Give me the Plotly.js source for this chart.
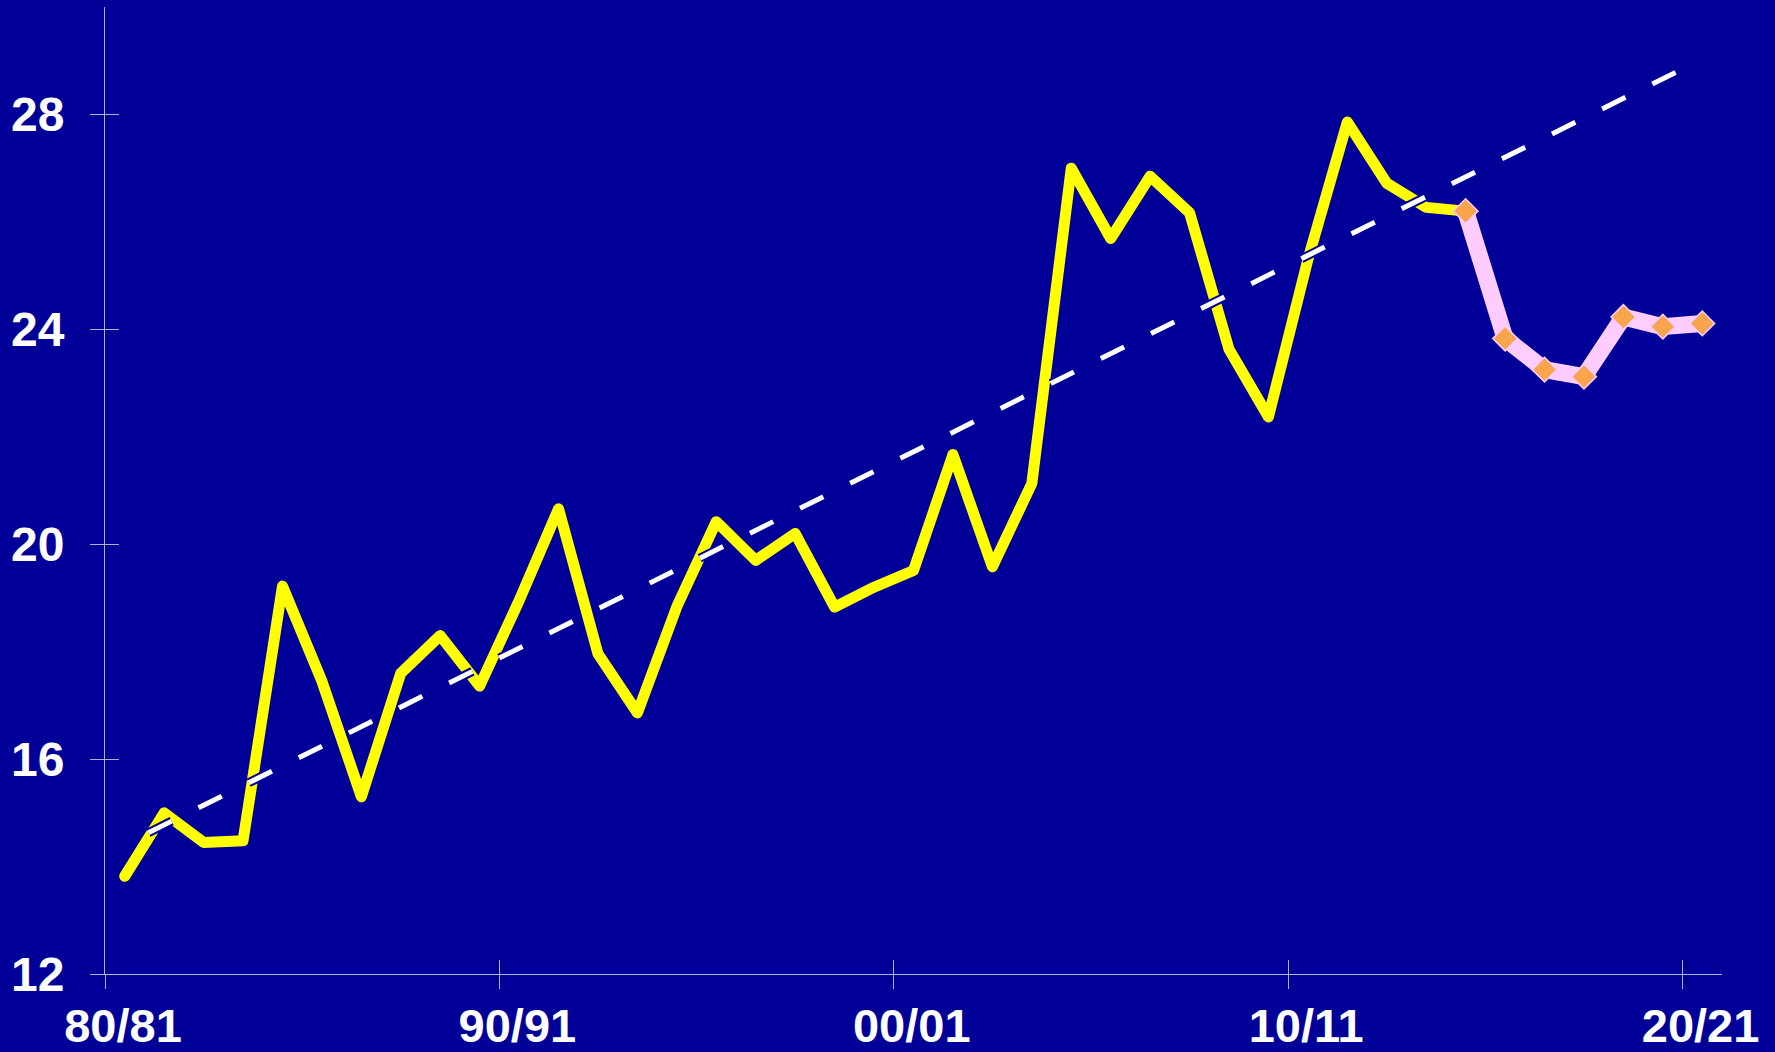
<!DOCTYPE html>
<html>
<head>
<meta charset="utf-8">
<script src="https://cdn.plot.ly/plotly-3.0.1.min.js"></script>
<style>
html, body { margin: 0; padding: 0; background: #000099; }
#chart { width: 1775px; height: 1052px; }
.overplot > .xy .js-line { stroke-linejoin: round; stroke-linecap: round; }
</style>
</head>
<body>
<div id="chart"></div>
<script>
// ---- data ----
const seasons = ['80/81','81/82','82/83','83/84','84/85','85/86','86/87','87/88','88/89','89/90',
                 '90/91','91/92','92/93','93/94','94/95','95/96','96/97','97/98','98/99','99/00',
                 '00/01','01/02','02/03','03/04','04/05','05/06','06/07','07/08','08/09','09/10',
                 '10/11','11/12','12/13','13/14','14/15','15/16','16/17','17/18','18/19','19/20','20/21'];
const tickSeasons = ['80/81','90/91','00/01','10/11','20/21'];
const yTickValues = [12, 16, 20, 24, 28];

// observed series, 80/81 .. 14/15
const actualValues = [13.82, 15.0, 14.45, 14.48, 19.22, 17.45, 15.3, 17.6, 18.3, 17.36,
                      18.95, 20.66, 17.96, 16.86, 18.84, 20.42, 19.7, 20.2, 18.83, 19.2,
                      19.51, 21.67, 19.58, 21.13, 27.0, 25.69, 26.85, 26.17, 23.63, 22.37,
                      25.3, 27.86, 26.72, 26.27, 26.2];
// projected series, 14/15 .. 20/21
const forecastSeasons = ['14/15','15/16','16/17','17/18','18/19','19/20','20/21'];
const forecastValues = [26.2, 23.83, 23.25, 23.12, 24.23, 24.05, 24.11];
// linear trend (start / end)
const trendPos = [0.6, 40];
const trendValues = [14.63, 29.03];

// ---- build ----
const idx = s => seasons.indexOf(s);
const actualX = actualValues.map((v, i) => i);
const forecastX = forecastSeasons.map(idx);
const bounds = tickSeasons.map(s => idx(s) - 0.5);

const bg = '#000099';
const axisColor = '#b0b0d8';
const fontFamily = '"Liberation Sans", Arial, sans-serif';
const yTickFont = { family: fontFamily, size: 48, color: '#ffffff', weight: 'bold' };
const xTickFont = { family: fontFamily, size: 47, color: '#ffffff', weight: 'bold' };
const xRange = [-0.5, seasons.length - 0.5];
const yRange = [12, 30];

const traces = [
  { x: actualX, y: actualValues, type: 'scatter', mode: 'lines',
    line: { color: '#ffff00', width: 11 }, hoverinfo: 'skip', xaxis: 'x', yaxis: 'y' },
  { x: forecastX, y: forecastValues, type: 'scatter', mode: 'lines+markers',
    line: { color: '#ffccff', width: 17 },
    marker: { symbol: 'diamond', size: 19, color: '#f8a54e', line: { color: '#ffccff', width: 1.5 } },
    hoverinfo: 'skip', xaxis: 'x', yaxis: 'y' },
  { x: trendPos, y: trendValues, type: 'scatter', mode: 'lines',
    line: { color: bg, width: 9, dash: '26px,30px' }, hoverinfo: 'skip', xaxis: 'x2', yaxis: 'y2' },
  { x: trendPos, y: trendValues, type: 'scatter', mode: 'lines',
    line: { color: '#ffffff', width: 5, dash: '26px,30px' }, hoverinfo: 'skip', xaxis: 'x2', yaxis: 'y2' }
];

const commonAxis = { showgrid: false, zeroline: false, fixedrange: true, tickwidth: 1, tickcolor: axisColor };

const layout = {
  width: 1775, height: 1052,
  paper_bgcolor: bg, plot_bgcolor: bg,
  margin: { l: 105, r: 53, t: 7, b: 78, pad: 0 },
  showlegend: false,
  xaxis: Object.assign({}, commonAxis, {
    type: 'linear', range: xRange, tickmode: 'array', tickvals: bounds, ticktext: tickSeasons,
    ticks: 'outside', ticklen: 14, showline: true, linecolor: axisColor, linewidth: 1,
    tickfont: xTickFont, ticklabelshift: 18, ticklabelstandoff: -3
  }),
  xaxis2: Object.assign({}, commonAxis, {
    type: 'linear', range: xRange, overlaying: 'x', anchor: 'y', side: 'bottom',
    tickmode: 'array', tickvals: bounds, ticks: 'inside', ticklen: 14,
    showticklabels: false, showline: false
  }),
  yaxis: Object.assign({}, commonAxis, {
    type: 'linear', range: yRange, tickmode: 'array', tickvals: yTickValues,
    ticks: 'outside', ticklen: 14, showline: true, linecolor: axisColor, linewidth: 1,
    tickfont: yTickFont, ticklabelstandoff: 16
  }),
  yaxis2: Object.assign({}, commonAxis, {
    type: 'linear', range: yRange, overlaying: 'y', anchor: 'x', side: 'left',
    tickmode: 'array', tickvals: yTickValues, ticks: 'inside', ticklen: 14,
    showticklabels: false, showline: false
  })
};

Plotly.newPlot('chart', traces, layout, { staticPlot: true, displayModeBar: false });
</script>
</body>
</html>
